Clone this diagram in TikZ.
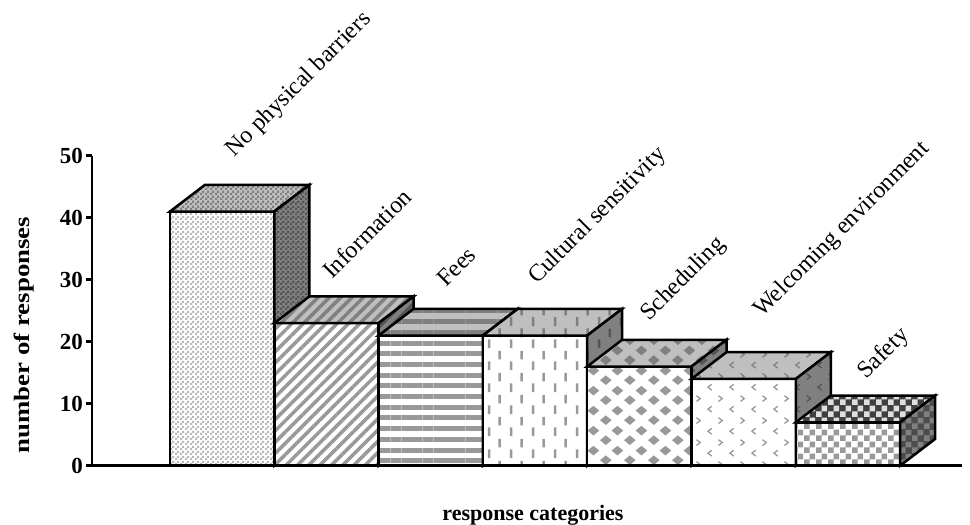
\documentclass[tikz,border=0pt]{standalone}
\usepackage{fontspec}
\setmainfont{Liberation Serif}
\usetikzlibrary{patterns,patterns.meta}

\definecolor{facegray}{gray}{0.6}
\definecolor{topgray}{gray}{0.75}
\definecolor{topdark}{gray}{0.5}
\definecolor{sidegray}{gray}{0.5}
\definecolor{sidedark}{gray}{0.33}

% tiles for the bar faces
\pgfdeclarepatternformonly{finecheck}{\pgfpointorigin}{\pgfqpoint{5pt}{5pt}}{\pgfqpoint{5pt}{5pt}}{%
  \pgfpathrectangle{\pgfpointorigin}{\pgfqpoint{2.5pt}{2.5pt}}%
  \pgfpathrectangle{\pgfqpoint{2.5pt}{2.5pt}}{\pgfqpoint{2.5pt}{2.5pt}}%
  \pgfusepath{fill}}
\pgfdeclarepatternformonly{bigcheck}{\pgfpointorigin}{\pgfqpoint{12pt}{12pt}}{\pgfqpoint{12pt}{12pt}}{%
  \pgfpathrectangle{\pgfpointorigin}{\pgfqpoint{6pt}{6pt}}%
  \pgfpathrectangle{\pgfqpoint{6pt}{6pt}}{\pgfqpoint{6pt}{6pt}}%
  \pgfusepath{fill}}
\pgfdeclarepatternformonly{vdashes}{\pgfpointorigin}{\pgfqpoint{22pt}{22pt}}{\pgfqpoint{22pt}{22pt}}{%
  \pgfpathrectangle{\pgfqpoint{4pt}{1pt}}{\pgfqpoint{2.5pt}{9pt}}%
  \pgfpathrectangle{\pgfqpoint{15pt}{12pt}}{\pgfqpoint{2.5pt}{9pt}}%
  \pgfusepath{fill}}
\pgfdeclarepatternformonly{diamonds}{\pgfpointorigin}{\pgfqpoint{24pt}{20pt}}{\pgfqpoint{24pt}{20pt}}{%
  \pgfpathmoveto{\pgfqpoint{0pt}{5pt}}\pgfpathlineto{\pgfqpoint{6pt}{10pt}}%
  \pgfpathlineto{\pgfqpoint{12pt}{5pt}}\pgfpathlineto{\pgfqpoint{6pt}{0pt}}\pgfpathclose
  \pgfpathmoveto{\pgfqpoint{12pt}{15pt}}\pgfpathlineto{\pgfqpoint{18pt}{20pt}}%
  \pgfpathlineto{\pgfqpoint{24pt}{15pt}}\pgfpathlineto{\pgfqpoint{18pt}{10pt}}\pgfpathclose
  \pgfusepath{fill}}
\pgfdeclarepatternformonly{chevrons}{\pgfpointorigin}{\pgfqpoint{22pt}{22pt}}{\pgfqpoint{22pt}{22pt}}{%
  \pgfsetlinewidth{1.3pt}%
  \pgfpathmoveto{\pgfqpoint{8pt}{3pt}}\pgfpathlineto{\pgfqpoint{4pt}{6pt}}\pgfpathlineto{\pgfqpoint{8pt}{9pt}}%
  \pgfpathmoveto{\pgfqpoint{15pt}{14pt}}\pgfpathlineto{\pgfqpoint{19pt}{17pt}}\pgfpathlineto{\pgfqpoint{15pt}{20pt}}%
  \pgfusepath{stroke}}

\begin{document}
\begin{tikzpicture}[x=1pt,y=-1pt,
  barline/.style={draw=black,line width=2.5pt},
  frontface/.style={preaction={fill=white},pattern color=facegray},
  topface/.style={preaction={fill=topgray},pattern color=topdark},
  sideface/.style={preaction={fill=sidegray},pattern color=sidedark},
  axisline/.style={line width=2.5pt},
  ticklab/.style={anchor=east,inner sep=0,font=\bfseries\fontsize{23}{23}\selectfont},
  axtitle/.style={inner sep=0,font=\bfseries\fontsize{22}{22}\selectfont},
  catlab/.style={anchor=base west,inner sep=0,rotate=45,font=\fontsize{24}{24}\selectfont}]
\useasboundingbox (0,0) rectangle (970,525);

% axes
\draw[axisline] (92,155.7) -- (92,465.7) -- (962,465.7);
\draw[axisline] (86,155.7) -- (92,155.7); \node[ticklab] (t50) at (83,155.7) {50};
\draw[axisline] (86,217.7) -- (92,217.7); \node[ticklab] (t40) at (83,217.7) {40};
\draw[axisline] (86,279.7) -- (92,279.7); \node[ticklab] (t30) at (83,279.7) {30};
\draw[axisline] (86,341.7) -- (92,341.7); \node[ticklab] (t20) at (83,341.7) {20};
\draw[axisline] (86,403.7) -- (92,403.7); \node[ticklab] (t10) at (83,403.7) {10};
\draw[axisline] (86,465.7) -- (92,465.7); \node[ticklab] (t0) at (83,465.7) {0};
\node[axtitle,rotate=90] (ytitle) at (24,335) {\scalebox{1.22}[1]{number of responses}};
\node[axtitle,anchor=base] (xtitle) at (533,520) {response categories};

% No physical barriers
\draw[barline,frontface,pattern color=gray!55,pattern=finecheck] (170,465.7) rectangle (274.3,211.5);
\draw[barline,topface,pattern=finecheck] (170,211.5) -- (205,184.8) -- (309.3,184.8) -- (274.3,211.5) -- cycle;
\draw[barline,sideface,pattern=finecheck] (274.3,465.7) -- (274.3,211.5) -- (309.3,184.8) -- (309.3,439) -- cycle;
% Information
\draw[barline,frontface,pattern={Lines[angle=45,distance=8pt,line width=3.5pt]}] (274.3,465.7) rectangle (378.6,323.1);
\draw[barline,topface,pattern={Lines[angle=45,distance=8pt,line width=3.5pt]}] (274.3,323.1) -- (309.3,296.4) -- (413.6,296.4) -- (378.6,323.1) -- cycle;
\draw[barline,sideface,pattern={Lines[angle=45,distance=8pt,line width=3.5pt]}] (378.6,465.7) -- (378.6,323.1) -- (413.6,296.4) -- (413.6,439) -- cycle;
% Fees
\draw[barline,frontface,pattern={Lines[angle=0,distance=10.7pt,line width=5pt]}] (378.6,465.7) rectangle (482.9,335.5);
\draw[barline,topface,pattern={Lines[angle=0,distance=10.7pt,line width=5pt]}] (378.6,335.5) -- (413.6,308.8) -- (517.9,308.8) -- (482.9,335.5) -- cycle;
\draw[barline,sideface,pattern={Lines[angle=0,distance=10.7pt,line width=5pt]}] (482.9,465.7) -- (482.9,335.5) -- (517.9,308.8) -- (517.9,439) -- cycle;
% Cultural sensitivity
\draw[barline,frontface,pattern=vdashes] (482.9,465.7) rectangle (587.2,335.5);
\draw[barline,topface,pattern=vdashes] (482.9,335.5) -- (517.9,308.8) -- (622.2,308.8) -- (587.2,335.5) -- cycle;
\draw[barline,sideface,pattern=vdashes] (587.2,465.7) -- (587.2,335.5) -- (622.2,308.8) -- (622.2,439) -- cycle;
% Scheduling
\draw[barline,frontface,pattern=diamonds] (587.2,465.7) rectangle (691.5,366.5);
\draw[barline,topface,pattern=diamonds] (587.2,366.5) -- (622.2,339.8) -- (726.5,339.8) -- (691.5,366.5) -- cycle;
\draw[barline,sideface,pattern=diamonds] (691.5,465.7) -- (691.5,366.5) -- (726.5,339.8) -- (726.5,439) -- cycle;
% Welcoming environment
\draw[barline,frontface,pattern=chevrons] (691.5,465.7) rectangle (795.8,378.9);
\draw[barline,topface,pattern=chevrons] (691.5,378.9) -- (726.5,352.2) -- (830.8,352.2) -- (795.8,378.9) -- cycle;
\draw[barline,sideface,pattern=chevrons] (795.8,465.7) -- (795.8,378.9) -- (830.8,352.2) -- (830.8,439) -- cycle;
% Safety
\draw[barline,frontface,pattern=bigcheck] (795.8,465.7) rectangle (900.1,422.3);
\draw[barline,preaction={fill=gray!50!black!100},pattern color=gray!25,pattern=bigcheck] (795.8,422.3) -- (830.8,395.6) -- (935.1,395.6) -- (900.1,422.3) -- cycle;
\draw[barline,preaction={fill=black!70},pattern color=black!50,pattern=bigcheck] (900.1,465.7) -- (900.1,422.3) -- (935.1,395.6) -- (935.1,439) -- cycle;

% category labels
\node[catlab] (lab1) at (234,158) {No physical barriers};
\node[catlab] (lab2) at (332,280) {Information};
\node[catlab] (lab3) at (446,288) {Fees};
\node[catlab] (lab4) at (537,285) {Cultural sensitivity};
\node[catlab] (lab5) at (649,322) {Scheduling};
\node[catlab] (lab6) at (762,318) {Welcoming environment};
\node[catlab] (lab7) at (866,380) {Safety};
\end{tikzpicture}
\end{document}
